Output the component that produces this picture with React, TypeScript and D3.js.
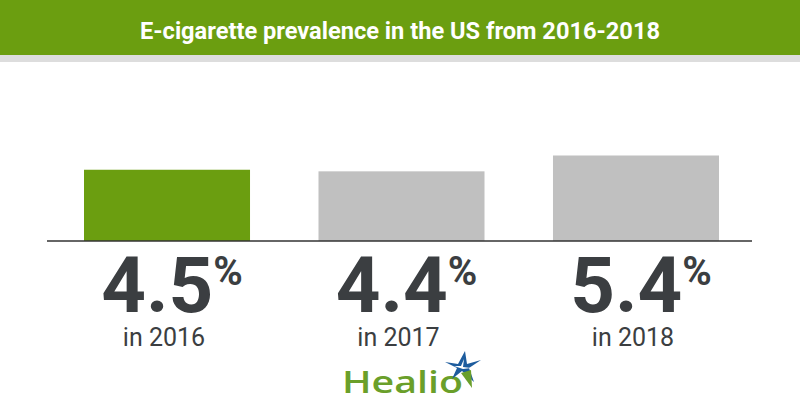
import React from "react";
import * as d3 from "d3";

const years = ["2016", "2017", "2018"];
const values = [4.5, 4.4, 5.4];
const highlightYear = "2016";
const title = "E-cigarette prevalence in the US from 2016-2018";

const W = 800;
const H = 420;
const green = "#6b9e10";
const grey = "#c0c0c0";
const dark = "#3b3e41";

export default function App() {
  const x = d3.scaleBand<string>().domain(years).range([84, 719]).paddingInner(0.292);
  const y = d3.scaleLinear().domain([0, 6]).range([241, 146]);
  const bw = x.bandwidth();

  return (
    <svg width={W} height={H} style={{ position: "absolute", left: 0, top: 0, background: "#fff" }}>
      {/* header band */}
      <rect x={0} y={0} width={W} height={55} fill={green} />
      <rect x={0} y={55} width={W} height={7} fill="#dddddd" />
      <text
        x={W / 2}
        y={38.5}
        textAnchor="middle"
        fill="#fff"
        fontFamily="Roboto, sans-serif"
        fontWeight={700}
        fontSize={23.5}
        textLength={520}
        lengthAdjust="spacingAndGlyphs"
      >
        {title}
      </text>

      {/* bars */}
      {years.map((yr, i) => (
        <rect
          key={yr}
          x={x(yr)}
          y={y(values[i])}
          width={bw}
          height={y(0) - y(values[i])}
          fill={yr === highlightYear ? green : grey}
        />
      ))}
      <line x1={47} x2={752} y1={y(0)} y2={y(0)} stroke="#333" strokeWidth={1.5} />

      {/* value + year labels */}
      {years.map((yr, i) => {
        const cx = (x(yr) ?? 0) + bw / 2;
        return (
          <g key={"l" + yr} fill={dark} fontFamily="Roboto, sans-serif">
            <text x={cx + 5} y={311.5} textAnchor="middle" fontWeight={700} fontSize={78}>
              {values[i].toFixed(1)}
              <tspan fontSize={40} dy={-26.5}>%</tspan>
            </text>
            <text x={cx - 3} y={345.5} textAnchor="middle" fontSize={25}>
              in {yr}
            </text>
          </g>
        );
      })}

      {/* logo */}
      <g>
        <text
          x={342}
          y={393}
          fill="#6a9f2a"
          fontFamily="'Open Sans', sans-serif"
          fontWeight={600}
          fontSize={30}
          textLength={121}
          lengthAdjust="spacingAndGlyphs"
        >
          Healio
        </text>
        <path d="M445,362 L458,364 L465,351 L467,364 L481,360 L469,368 L474,382 L462,371 L452,379 L457,368 Z" fill="#1d5c9e" />
        <path d="M454,366 L461,366 L464,359 L463,367 L471,368 L463,369 Z" fill="#ffffff" />
        <path d="M461,373 L471,370 L472,388 Z" fill="#6a9f2a" />
      </g>
    </svg>
  );
}
